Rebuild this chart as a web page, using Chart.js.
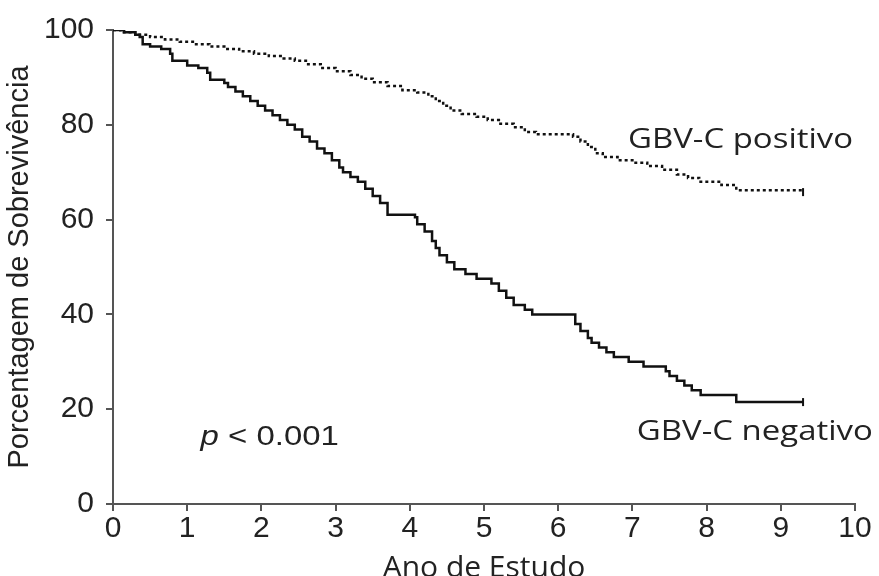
<!DOCTYPE html>
<html>
<head>
<meta charset="utf-8">
<script src="https://cdn.jsdelivr.net/npm/chart.js@4/dist/chart.umd.min.js"></script>
<style>
  html, body { margin: 0; padding: 0; background: #fff; }
  #wrap { width: 879px; height: 576px; }
</style>
</head>
<body>
<div id="wrap"><canvas id="survChart"></canvas></div>
<script>
// Kaplan-Meier steps (year, % surviving after the drop)
const negYears = [0, 0.15, 0.3, 0.36, 0.4, 0.5, 0.65, 0.77, 0.8, 1.0, 1.15, 1.27, 1.31, 1.5, 1.55, 1.65, 1.75, 1.85, 1.95,
  2.05, 2.15, 2.25, 2.35, 2.45, 2.55, 2.65, 2.75, 2.85, 2.95, 3.05, 3.1, 3.2, 3.3, 3.4, 3.5, 3.6, 3.7, 4.07,
  4.1, 4.2, 4.3, 4.35, 4.4, 4.5, 4.6, 4.75, 4.9, 5.1, 5.2, 5.3, 5.4, 5.55, 5.65, 6.23, 6.3, 6.4, 6.45, 6.55,
  6.65, 6.75, 6.95, 7.15, 7.45, 7.5, 7.6, 7.7, 7.8, 7.92, 8.4, 9.3];
const negSurv = [100, 99.5, 99, 98.5, 97, 96.5, 96, 95, 93.5, 92.5, 92, 91, 89.5, 88.8, 88, 87, 86, 85, 84,
  83, 82, 81, 80, 79, 77.5, 76.5, 75, 74, 72.5, 71, 70, 69, 68, 66.5, 65, 63.5, 61, 60.5,
  59, 57.5, 55.5, 54, 52.5, 51, 49.5, 48.5, 47.5, 46.5, 45, 43.5, 42, 41, 40, 38, 36.5, 35, 34, 33,
  32, 31, 30, 29, 28, 27, 26, 25, 24, 23, 21.5, 21.5];

const posYears = [0, 0.1, 0.3, 0.5, 0.7, 0.9, 1.1, 1.3, 1.5, 1.7, 1.9, 2.1, 2.3, 2.45, 2.6, 2.8, 3.0, 3.2, 3.35,
  3.5, 3.7, 3.9, 4.1, 4.25, 4.35, 4.45, 4.55, 4.7, 4.9, 5.05, 5.2, 5.4, 5.55, 5.7, 6.2, 6.3, 6.4, 6.5, 6.6,
  6.8, 7.0, 7.2, 7.4, 7.6, 7.75, 7.9, 8.2, 8.4, 9.3];
const posSurv = [100, 99.5, 99, 98.5, 98, 97.5, 97, 96.5, 96, 95.5, 95, 94.5, 94, 93.5, 92.8, 92, 91.3, 90.5, 89.7,
  89, 88.2, 87.3, 86.8, 86, 85, 84, 83, 82.3, 81.7, 81, 80.2, 79.5, 78.5, 78, 77.5, 76.5, 75.3, 74, 73.2,
  72.5, 72, 71.3, 70.5, 69.5, 68.8, 68, 67.3, 66.2, 65.8];

const yearTicks = [0, 1, 2, 3, 4, 5, 6, 7, 8, 9, 10];
const pctTicks = [0, 20, 40, 60, 80, 100];

const axisColor = '#555';
const textColor = '#222';
const stretch = 1.22; // the source picture is a bit wider than tall

function toPoints(xs, ys) {
  return xs.map((x, i) => ({ x: x, y: ys[i] }));
}

// little censor mark at the end of each curve
function endMark(ctx) {
  return ctx.dataIndex === ctx.dataset.data.length - 1 ? 4 : 0;
}

// text notes drawn in data coordinates
const notes = [
  { text: 'GBV-C positivo', x: 6.94, y: 76.8, font: '27px "Open Sans"' },
  { text: 'GBV-C negativo', x: 7.06, y: 15.1, font: '27px "Open Sans"' }
];

function stretchedText(ctx, text, x, y) {
  ctx.save();
  ctx.translate(x, y);
  ctx.scale(stretch, 1);
  ctx.fillText(text, 0, 0);
  ctx.restore();
  return ctx.measureText(text).width * stretch;
}

const notesPlugin = {
  id: 'notes',
  afterDraw(chart) {
    const { ctx, scales } = chart;
    ctx.save();
    ctx.fillStyle = textColor;
    ctx.textBaseline = 'middle';
    ctx.textAlign = 'left';
    notes.forEach(n => {
      ctx.font = n.font;
      stretchedText(ctx, n.text, scales.x.getPixelForValue(n.x), scales.y.getPixelForValue(n.y));
    });
    // p value, italic p
    const px = scales.x.getPixelForValue(1.18);
    const py = scales.y.getPixelForValue(14);
    ctx.font = 'italic 27px "Liberation Sans"';
    const w = stretchedText(ctx, 'p ', px, py);
    ctx.font = '27px "Liberation Sans"';
    stretchedText(ctx, '< 0.001', px + w, py);
    ctx.restore();
  }
};

const ctx = document.getElementById('survChart').getContext('2d');
new Chart(ctx, {
  type: 'line',
  data: {
    datasets: [
      {
        label: 'GBV-C positivo',
        data: toPoints(posYears, posSurv),
        borderColor: '#111',
        borderWidth: 2.5,
        borderDash: [3, 3],
        stepped: true,
        fill: false,
        pointStyle: 'line',
        rotation: 90,
        pointRadius: endMark,
        pointBorderColor: '#111',
        pointBorderWidth: 2
      },
      {
        label: 'GBV-C negativo',
        data: toPoints(negYears, negSurv),
        borderColor: '#111',
        borderWidth: 2.5,
        stepped: true,
        fill: false,
        pointStyle: 'line',
        rotation: 90,
        pointRadius: endMark,
        pointBorderColor: '#111',
        pointBorderWidth: 2
      }
    ]
  },
  options: {
    responsive: true,
    maintainAspectRatio: false,
    animation: false,
    layout: { padding: { top: 26, right: 24, left: 0, bottom: 0 } },
    plugins: {
      legend: { display: false },
      tooltip: { enabled: false }
    },
    scales: {
      x: {
        type: 'linear',
        min: 0,
        max: 10,
        afterBuildTicks: s => { s.ticks = yearTicks.map(v => ({ value: v })); },
        afterFit: s => { s.height = 72; },
        ticks: { color: textColor, font: { family: 'Liberation Sans', size: 30 }, padding: 0, maxRotation: 0 },
        grid: { drawOnChartArea: false, drawTicks: true, tickLength: 7, color: axisColor, lineWidth: 2 },
        border: { display: true, color: axisColor, width: 2 },
        title: {
          display: true,
          text: 'Ano de Estudo',
          color: textColor,
          font: { family: 'Open Sans', size: 30 },
          padding: { top: 0, bottom: -10 }
        }
      },
      y: {
        type: 'linear',
        min: 0,
        max: 100,
        afterBuildTicks: s => { s.ticks = pctTicks.map(v => ({ value: v })); },
        afterFit: s => { s.width = 113; },
        ticks: { color: textColor, font: { family: 'Liberation Sans', size: 30 }, padding: 12 },
        grid: { drawOnChartArea: false, drawTicks: true, tickLength: 7, color: axisColor, lineWidth: 2 },
        border: { display: true, color: axisColor, width: 2 },
        title: {
          display: true,
          text: 'Porcentagem de Sobrevivência',
          color: textColor,
          font: { family: 'Liberation Sans', size: 29 },
          padding: { top: 3, bottom: 0 }
        }
      }
    }
  },
  plugins: [notesPlugin]
});
</script>
</body>
</html>
